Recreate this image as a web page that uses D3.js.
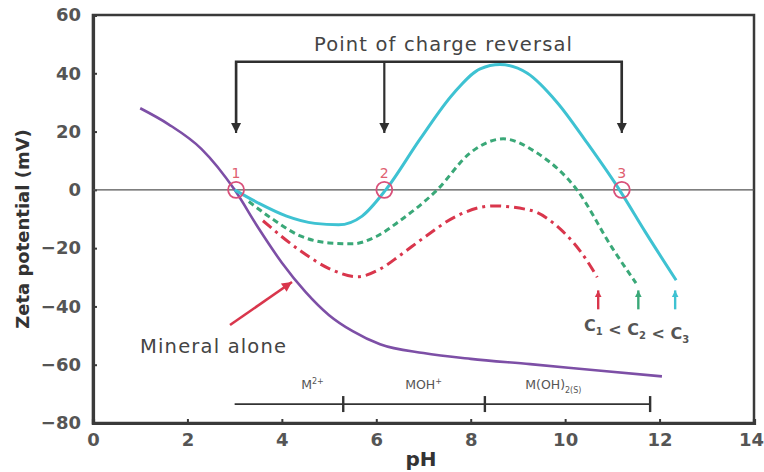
<!DOCTYPE html>
<html>
<head>
<meta charset="utf-8">
<script src="https://cdn.jsdelivr.net/npm/d3@7"></script>
<style>
  html, body { margin: 0; padding: 0; background: #fff; }
  svg { display: block; }
</style>
</head>
<body>
<svg id="chart" width="764" height="472"></svg>
<script>
// Axis ticks
const phTicks = [0, 2, 4, 6, 8, 10, 12, 14];
const zetaTicks = [-80, -60, -40, -20, 0, 20, 40, 60];

// Zeta potential (mV) vs pH
const mineralAlone = [[1.0, 28], [1.6, 22.5], [2.3, 14], [3.0, 0], [3.5, -13], [4.0, -25], [4.5, -35],
  [5.0, -43], [5.5, -48.5], [6.08, -53], [7.0, -56], [8.0, -58], [9.26, -59.8], [10.7, -62], [12.05, -64]];
const seriesC3 = [[3.0, 0], [3.5, -4.5], [4.1, -9], [4.7, -11.5], [5.2, -12], [5.7, -9], [6.2, 0], [6.93, 17.5],
  [7.63, 33], [8.2, 41.5], [8.62, 43], [9.2, 40], [9.83, 30], [10.47, 16], [11.15, 0], [11.7, -14.5], [12.35, -31]];
const seriesC2 = [[3.3, -4], [3.8, -10], [4.39, -15.8], [5.0, -18.2], [5.5, -18.5], [6.0, -16], [6.5, -10.6],
  [7.29, 0], [7.99, 12.7], [8.69, 17.5], [9.4, 12.7], [10.25, 0], [11.0, -20], [11.5, -32]];
const seriesC1 = [[3.6, -10.6], [4.4, -21], [5.0, -27], [5.6, -29.8], [6.1, -27], [6.5, -22.5], [7.0, -16.5],
  [7.7, -9], [8.47, -5.5], [9.26, -7], [9.9, -13.5], [10.45, -24], [10.68, -30]];

// Charge reversal points and annotation values
const reversalPh = [3.03, 6.17, 11.2];
const reversalLabels = ["1", "2", "3"];
const bracketZeta = 44;
const arrowTipZeta = 19.5;

// Hydrolysis species ranges
const speciesBounds = [3.0, 5.3, 8.3, 11.8];
const speciesLabelPh = [4.65, 7.0, 9.75];
const speciesLevel = -73.5;
const speciesLabelLevel = -68.5;

// Concentration marker arrows at the end of each curve
const concArrowPh = [10.7, 11.55, 12.33];

const colors = { mineral: "#7d4fa6", c3: "#3ec2d2", c2: "#3aa878", c1: "#d9364c", ring: "#d9507a", axis: "#3a3a3a", text: "#555" };

const svg = d3.select("#chart");
const x = d3.scaleLinear().domain([0, 14]).range([93, 754]);
const y = d3.scaleLinear().domain([-80, 60]).range([423, 15]);
const font = "'DejaVu Sans', Verdana, sans-serif";

const defs = svg.append("defs");
function marker(id, color, w, h) {
  defs.append("marker").attr("id", id).attr("viewBox", "0 0 10 10").attr("refX", 10).attr("refY", 5)
    .attr("markerUnits", "userSpaceOnUse").attr("markerWidth", w).attr("markerHeight", h).attr("orient", "auto")
    .append("path").attr("d", "M0,0 L10,5 L0,10 z").attr("fill", color);
}
marker("arrBlack", "#2f2f2f", 10, 12);
marker("arrRed", colors.c1, 12, 10);
marker("arrC1", colors.c1, 7, 8);
marker("arrC2", colors.c2, 7, 8);
marker("arrC3", colors.c3, 7, 8);

// Frame
svg.append("rect").attr("x", x(0)).attr("y", y(60)).attr("width", x(14) - x(0)).attr("height", y(-80) - y(60))
  .attr("fill", "none").attr("stroke", colors.axis).attr("stroke-width", 2.5);

// Axes
const yAxis = svg.append("g").attr("transform", `translate(${x(0)},0)`)
  .call(d3.axisLeft(y).tickValues(zetaTicks).tickSize(-4).tickPadding(12));
const xAxis = svg.append("g").attr("transform", `translate(0,${y(-80)})`)
  .call(d3.axisBottom(x).tickValues(phTicks).tickSize(-4).tickPadding(10));
[yAxis, xAxis].forEach(g => {
  g.select(".domain").attr("stroke", colors.axis).attr("stroke-width", 3.2);
  g.selectAll(".tick line").attr("stroke", colors.axis).attr("stroke-width", 2);
  g.selectAll(".tick text").attr("fill", colors.text).attr("font-family", font)
    .attr("font-weight", "bold").attr("font-size", 18);
});
xAxis.selectAll(".tick text").filter(d => d === 14).attr("dx", -3);

// Axis titles
svg.append("text").attr("transform", `translate(29,${(y(60) + y(-80)) / 2 + 10}) rotate(-90)`)
  .attr("text-anchor", "middle").attr("font-family", font).attr("font-weight", "bold")
  .attr("font-size", 18).attr("fill", "#333").text("Zeta potential (mV)");
svg.append("text").attr("x", 421).attr("y", 466).attr("text-anchor", "middle").attr("font-family", font)
  .attr("font-weight", "bold").attr("font-size", 20).attr("fill", "#333").text("pH");

// Zero line
svg.append("line").attr("x1", x(0)).attr("x2", x(14)).attr("y1", y(0)).attr("y2", y(0))
  .attr("stroke", "#555").attr("stroke-width", 1.3);

// Curves
const line = d3.line().x(d => x(d[0])).y(d => y(d[1])).curve(d3.curveMonotoneX);
svg.append("path").datum(mineralAlone).attr("d", line).attr("fill", "none")
  .attr("stroke", colors.mineral).attr("stroke-width", 2.6);
svg.append("path").datum(seriesC1).attr("d", line).attr("fill", "none")
  .attr("stroke", colors.c1).attr("stroke-width", 3).attr("stroke-dasharray", "11,5,3,5");
svg.append("path").datum(seriesC2).attr("d", line).attr("fill", "none")
  .attr("stroke", colors.c2).attr("stroke-width", 3).attr("stroke-dasharray", "6,4");
svg.append("path").datum(seriesC3).attr("d", line).attr("fill", "none")
  .attr("stroke", colors.c3).attr("stroke-width", 3);

// Charge reversal rings and numbers
svg.selectAll("circle.rev").data(reversalPh).join("circle").attr("class", "rev")
  .attr("cx", d => x(d)).attr("cy", y(0)).attr("r", 8)
  .attr("fill", "none").attr("stroke", colors.ring).attr("stroke-width", 1.8);
svg.selectAll("text.rev").data(reversalPh).join("text").attr("class", "rev")
  .attr("x", d => x(d)).attr("y", y(0) - 12).attr("text-anchor", "middle")
  .attr("font-family", font).attr("font-size", 14).attr("fill", "#e06070")
  .text((d, i) => reversalLabels[i]);

// Bracket with arrows
svg.append("path")
  .attr("d", `M${x(reversalPh[0])},${y(arrowTipZeta) - 10} L${x(reversalPh[0])},${y(bracketZeta)} L${x(reversalPh[2])},${y(bracketZeta)} L${x(reversalPh[2])},${y(arrowTipZeta) - 10}`)
  .attr("fill", "none").attr("stroke", "#2f2f2f").attr("stroke-width", 2.5);
reversalPh.forEach(p => {
  svg.append("line").attr("x1", x(p)).attr("x2", x(p)).attr("y1", y(bracketZeta)).attr("y2", y(arrowTipZeta))
    .attr("stroke", "#2f2f2f").attr("stroke-width", 2.2).attr("marker-end", "url(#arrBlack)");
});
svg.append("text").attr("x", 443).attr("y", 51).attr("text-anchor", "middle").attr("font-family", font)
  .attr("font-size", 19.5).attr("fill", "#444").attr("textLength", 258).attr("lengthAdjust", "spacing")
  .text("Point of charge reversal");

// Mineral alone label and arrow
svg.append("text").attr("x", 140).attr("y", 353).attr("font-family", font).attr("font-size", 19.5)
  .attr("fill", "#444").attr("textLength", 146).attr("lengthAdjust", "spacing").text("Mineral alone");
svg.append("line").attr("x1", 230).attr("y1", 325).attr("x2", 292).attr("y2", 282)
  .attr("stroke", colors.c1).attr("stroke-width", 2.6).attr("marker-end", "url(#arrRed)");

// Concentration arrows and label
const concColors = [colors.c1, colors.c2, colors.c3];
const concMarkers = ["arrC1", "arrC2", "arrC3"];
concArrowPh.forEach((p, i) => {
  svg.append("line").attr("x1", x(p)).attr("x2", x(p)).attr("y1", y(-41)).attr("y2", y(-34.5))
    .attr("stroke", concColors[i]).attr("stroke-width", 2.4).attr("marker-end", `url(#${concMarkers[i]})`);
});
const cLabel = svg.append("text").attr("x", 584).attr("y", 331).attr("font-family", font)
  .attr("font-size", 16).attr("font-weight", "bold").attr("fill", "#555");
[["C", "1"], [" < C", "2"], [" < C", "3"]].forEach(([t, s]) => {
  cLabel.append("tspan").attr("dy", 0).text(t);
  cLabel.append("tspan").attr("font-size", 10).attr("dy", 4).text(s);
  cLabel.append("tspan").attr("dy", -4).text("");
});

// Species ranges
svg.append("line").attr("x1", x(speciesBounds[0])).attr("x2", x(speciesBounds[3]))
  .attr("y1", y(speciesLevel)).attr("y2", y(speciesLevel)).attr("stroke", "#333").attr("stroke-width", 1.8);
svg.selectAll("line.sp").data(speciesBounds.slice(1)).join("line").attr("class", "sp")
  .attr("x1", d => x(d)).attr("x2", d => x(d)).attr("y1", y(speciesLevel) - 8).attr("y2", y(speciesLevel) + 8)
  .attr("stroke", "#333").attr("stroke-width", 2.4);
const spText = (p) => svg.append("text").attr("x", x(p)).attr("y", y(speciesLabelLevel))
  .attr("text-anchor", "middle").attr("font-family", font).attr("font-size", 12.5).attr("fill", "#555");
const s1 = spText(speciesLabelPh[0]);
s1.append("tspan").text("M");
s1.append("tspan").attr("font-size", 8).attr("dy", -5).text("2+");
const s2 = spText(speciesLabelPh[1]);
s2.append("tspan").text("MOH");
s2.append("tspan").attr("font-size", 8).attr("dy", -5).text("+");
const s3 = spText(speciesLabelPh[2]);
s3.append("tspan").text("M(OH)");
s3.append("tspan").attr("font-size", 8).attr("dy", 4).text("2(S)");
</script>
</body>
</html>
